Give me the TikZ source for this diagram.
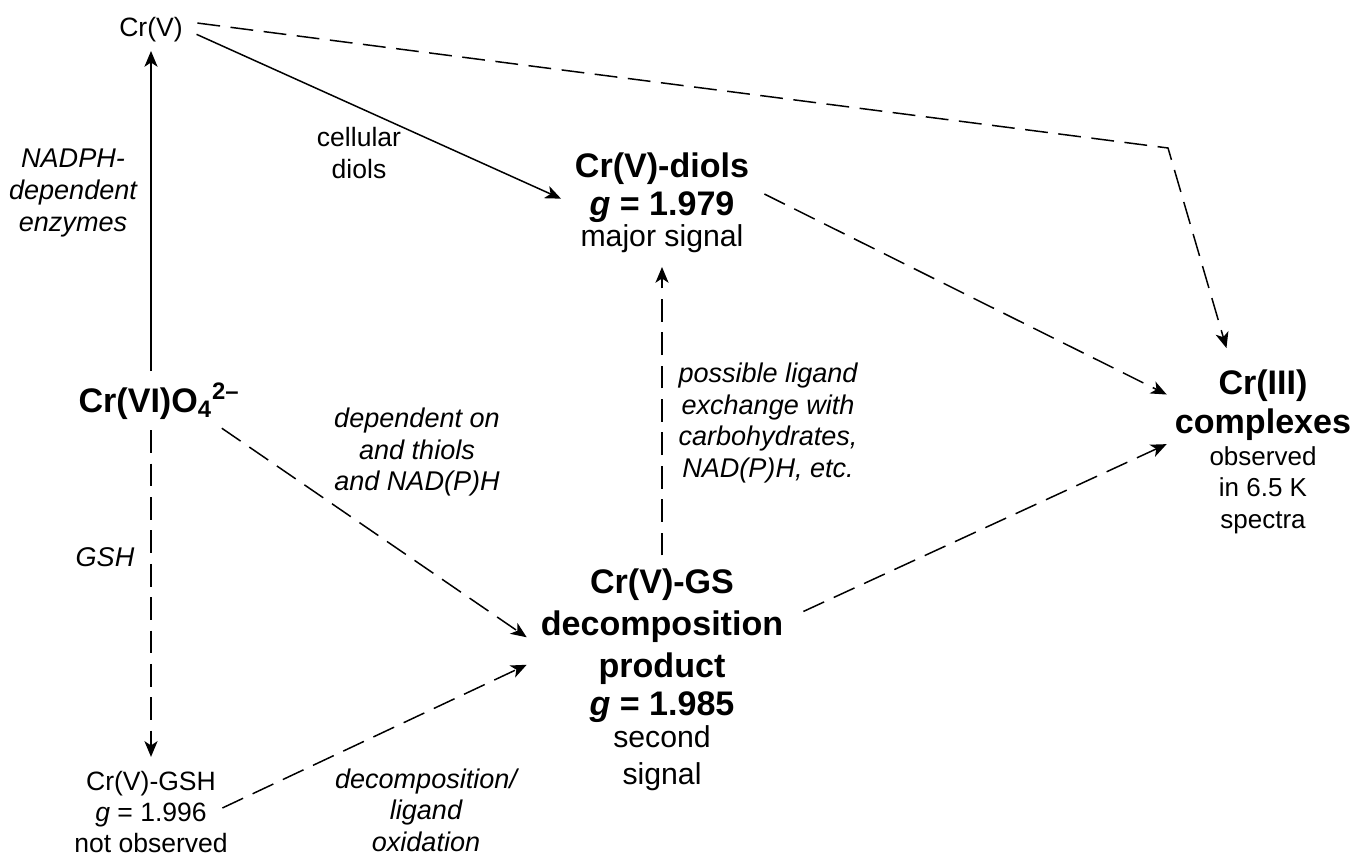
\documentclass[tikz,border=0pt]{standalone}
\usepackage{fontspec}
\setmainfont{Liberation Sans}
\usetikzlibrary{arrows.meta}
\newcommand{\notefont}{\fontsize{14.8}{18}\selectfont\mdseries}
\newcommand{\signalfont}{\fontsize{17.2}{18}\selectfont\mdseries}

\begin{document}
\begin{tikzpicture}[x=0.02cm,y=-0.02cm,line width=0.85pt,>={Stealth[length=9pt,width=7.5pt,inset=2.5pt]},
  every node/.style={inner sep=2pt,align=center,font=\fontsize{15.1}{18}\selectfont},
  species/.style={font=\fontsize{19.4}{22}\selectfont\bfseries},
  route/.style={font=\fontsize{15.4}{18}\selectfont\itshape},
  tentative/.style={dash pattern=on 13pt off 6pt}]
\useasboundingbox (0,0) rectangle (1355,858);

% species
\node (cr_v) at (151,30) {Cr(V)};
\node[species] (cr_vi) at (159,401) {Cr(VI)O\textsubscript{4}\textsuperscript{2–}};
\node (cr_gsh) at (151,812) {Cr(V)-GSH\\[-0.6pt]\textit{g} = 1.996\\[-0.6pt]not observed};
\node[species] (cr_diols) at (662,203) {Cr(V)-diols\\[-0.5pt]\textit{g} = 1.979\\[-4.5pt]{\signalfont major signal}};
\node[species] (cr_gs) at (662,680) {Cr(V)-GS\\[1.8pt]decomposition\\[1.8pt]product\\[-0.5pt]\textit{g} = 1.985\\[-3.5pt]{\signalfont second}\\[-1pt]{\signalfont signal}};
\node[species] (cr_iii) at (1263,452) {Cr(III)\\complexes\\[-3.9pt]{\notefont observed}\\[-3.9pt]{\notefont in 6.5 K}\\[-3.9pt]{\notefont spectra}};

% labels
\node[route] (l_nadph) at (73,193) {NADPH-\\dependent\\enzymes};
\node (l_cellular) at (359,153) {cellular\\diols};
\node[route] (l_thiols) at (417,452) {dependent on\\and thiols\\and NAD(P)H};
\node[route] (l_exchange) at (768,423) {possible ligand\\exchange with\\carbohydrates,\\NAD(P)H, etc.};
\node[route] (l_gsh) at (105,557.5) {GSH};
\node[route] (l_oxidation) at (426,810) {decomposition/\\ligand\\oxidation};

\coordinate (bend) at (1168,148);

% pathways
\path[->] (cr_vi.north -| cr_v.south) edge[shorten <=4pt,shorten >=2.5pt] (cr_v.south)
  (cr_v.east) edge[shorten <=6pt,shorten >=6pt] (cr_diols.west)
  (cr_vi.south -| cr_v.south) edge[tentative,shorten <=3.7pt,shorten >=6pt] (cr_gsh.north)
  (cr_vi.-22.5) edge[tentative,shorten <=4.5pt,shorten >=6.8pt] (cr_gs.164)
  (cr_gsh.6) edge[tentative,shorten <=-6pt,shorten >=6.2pt] (cr_gs.171)
  (cr_gs.north) edge[tentative,shorten <=5.4pt,shorten >=5.7pt] (cr_diols.south)
  (cr_diols.9) edge[tentative,shorten <=7pt,shorten >=2.5pt] (cr_iii.149)
  (cr_gs.26.5) edge[tentative,shorten <=10pt,shorten >=2.5pt] (cr_iii.174.5);
\draw[->,tentative,shorten <=6pt,shorten >=10.4pt] (cr_v.13) -- (bend) -- (cr_iii.110);
\end{tikzpicture}
\end{document}
